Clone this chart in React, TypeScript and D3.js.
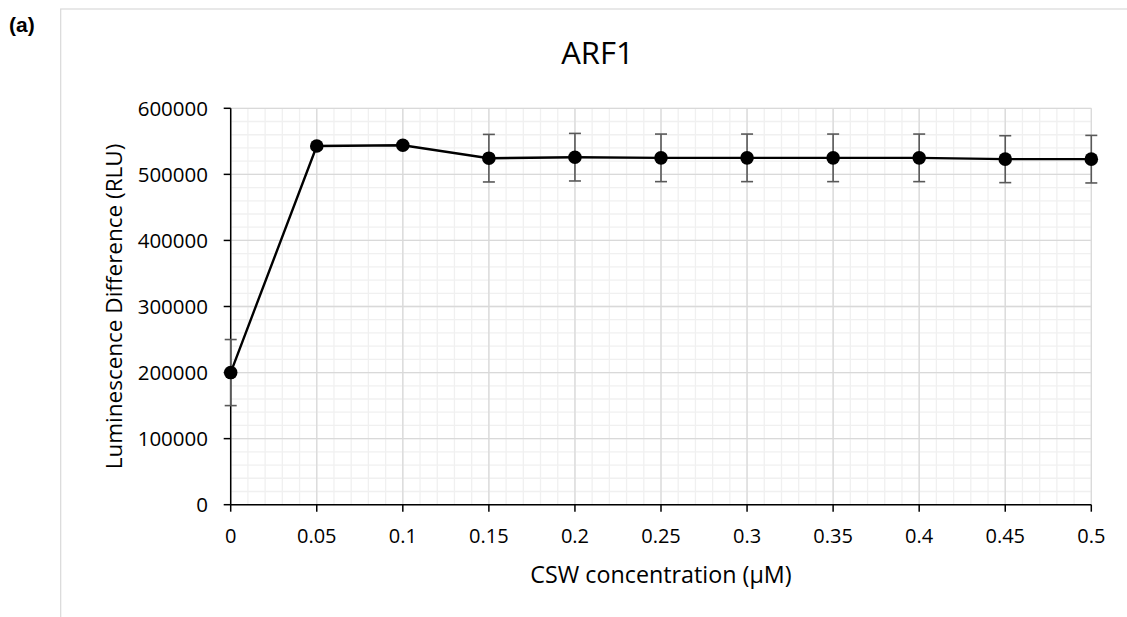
import React from "react";
import * as d3 from "d3";

const concentrations = [0, 0.05, 0.1, 0.15, 0.2, 0.25, 0.3, 0.35, 0.4, 0.45, 0.5];
const luminescence = [200000, 543000, 544000, 524500, 526000, 525000, 525000, 525000, 525000, 523000, 523000];
const errors = [50000, 0, 0, 36000, 36000, 36000, 36000, 36000, 36000, 35500, 36000];
const xTicks = [0, 0.05, 0.1, 0.15, 0.2, 0.25, 0.3, 0.35, 0.4, 0.45, 0.5];
const yTicks = [0, 100000, 200000, 300000, 400000, 500000, 600000];

const W = 1127;
const H = 617;
const left = 230.7;
const right = 1091.3;
const top = 108.3;
const bottom = 504.7;
const FONT = "'Open Sans', 'Liberation Sans', sans-serif";

export default function App() {
  const x = d3.scaleLinear().domain([0, 0.5]).range([left, right]);
  const y = d3.scaleLinear().domain([0, 600000]).range([bottom, top]);
  const xMinor = d3.range(0, 51).map((i) => i / 100);
  const yMinor = d3.range(0, 31).map((i) => i * 20000);
  const line = d3
    .line<number>()
    .x((_, i) => x(concentrations[i]))
    .y((d) => y(d));

  return (
    <div style={{ position: "absolute", left: 0, top: 0 }}>
      <svg width={W} height={H} style={{ display: "block", background: "#fff" }}>
        <rect x={60.7} y={9} width={W} height={H} fill="#fff" stroke="#d9d9d9" strokeWidth={1.2} />
        <text x={9} y={32} fontFamily="'Liberation Sans', Arial, sans-serif" fontWeight="bold" fontSize={21}>
          (a)
        </text>
        <text x={597.5} y={64.3} textAnchor="middle" fontFamily={FONT} fontSize={31} fill="#000">
          ARF1
        </text>
        {/* minor grid */}
        {xMinor.map((v, i) => (
          <line key={"xm" + i} x1={x(v)} x2={x(v)} y1={top} y2={bottom} stroke="#f0f0f0" strokeWidth={1.3} />
        ))}
        {yMinor.map((v, i) => (
          <line key={"ym" + i} x1={left} x2={right} y1={y(v)} y2={y(v)} stroke="#f0f0f0" strokeWidth={1.3} />
        ))}
        {/* major grid */}
        {xTicks.map((v, i) => (
          <line key={"xM" + i} x1={x(v)} x2={x(v)} y1={top} y2={bottom} stroke="#d9d9d9" strokeWidth={1.3} />
        ))}
        {yTicks.map((v, i) => (
          <line key={"yM" + i} x1={left} x2={right} y1={y(v)} y2={y(v)} stroke="#d9d9d9" strokeWidth={1.3} />
        ))}
        {/* axes */}
        <line x1={left} x2={left} y1={top} y2={bottom} stroke="#000" strokeWidth={1.5} />
        <line x1={left} x2={right} y1={bottom} y2={bottom} stroke="#000" strokeWidth={1.5} />
        {yTicks.map((v, i) => (
          <g key={"yt" + i}>
            <line x1={left - 7} x2={left} y1={y(v)} y2={y(v)} stroke="#000" strokeWidth={1.5} />
            <text x={208} y={y(v) + 7.3} textAnchor="end" fontFamily={FONT} fontSize={20.5} fill="#000">
              {v}
            </text>
          </g>
        ))}
        {xTicks.map((v, i) => (
          <g key={"xt" + i}>
            <line x1={x(v)} x2={x(v)} y1={bottom} y2={bottom + 7} stroke="#000" strokeWidth={1.5} />
            <text x={x(v)} y={543} textAnchor="middle" fontFamily={FONT} fontSize={20} fill="#000">
              {String(v)}
            </text>
          </g>
        ))}
        <text
          transform={`translate(122,${(top + bottom) / 2}) rotate(-90)`}
          textAnchor="middle"
          fontFamily={FONT}
          fontSize={22.5}
          fill="#000"
        >
          Luminescence Difference (RLU)
        </text>
        <text x={(left + right) / 2} y={583} textAnchor="middle" fontFamily={FONT} fontSize={23.3} fill="#000">
          CSW concentration (µM)
        </text>
        {/* error bars */}
        {luminescence.map((v, i) =>
          errors[i] > 0 ? (
            <g key={"eb" + i} stroke="#595959" strokeWidth={1.6}>
              <line x1={x(concentrations[i])} x2={x(concentrations[i])} y1={y(v - errors[i])} y2={y(v + errors[i])} />
              <line x1={x(concentrations[i]) - 6} x2={x(concentrations[i]) + 6} y1={y(v - errors[i])} y2={y(v - errors[i])} />
              <line x1={x(concentrations[i]) - 6} x2={x(concentrations[i]) + 6} y1={y(v + errors[i])} y2={y(v + errors[i])} />
            </g>
          ) : null
        )}
        <path d={line(luminescence) || ""} fill="none" stroke="#000" strokeWidth={2.4} />
        {luminescence.map((v, i) => (
          <circle key={"pt" + i} cx={x(concentrations[i])} cy={y(v)} r={6.8} fill="#000" />
        ))}
      </svg>
    </div>
  );
}
